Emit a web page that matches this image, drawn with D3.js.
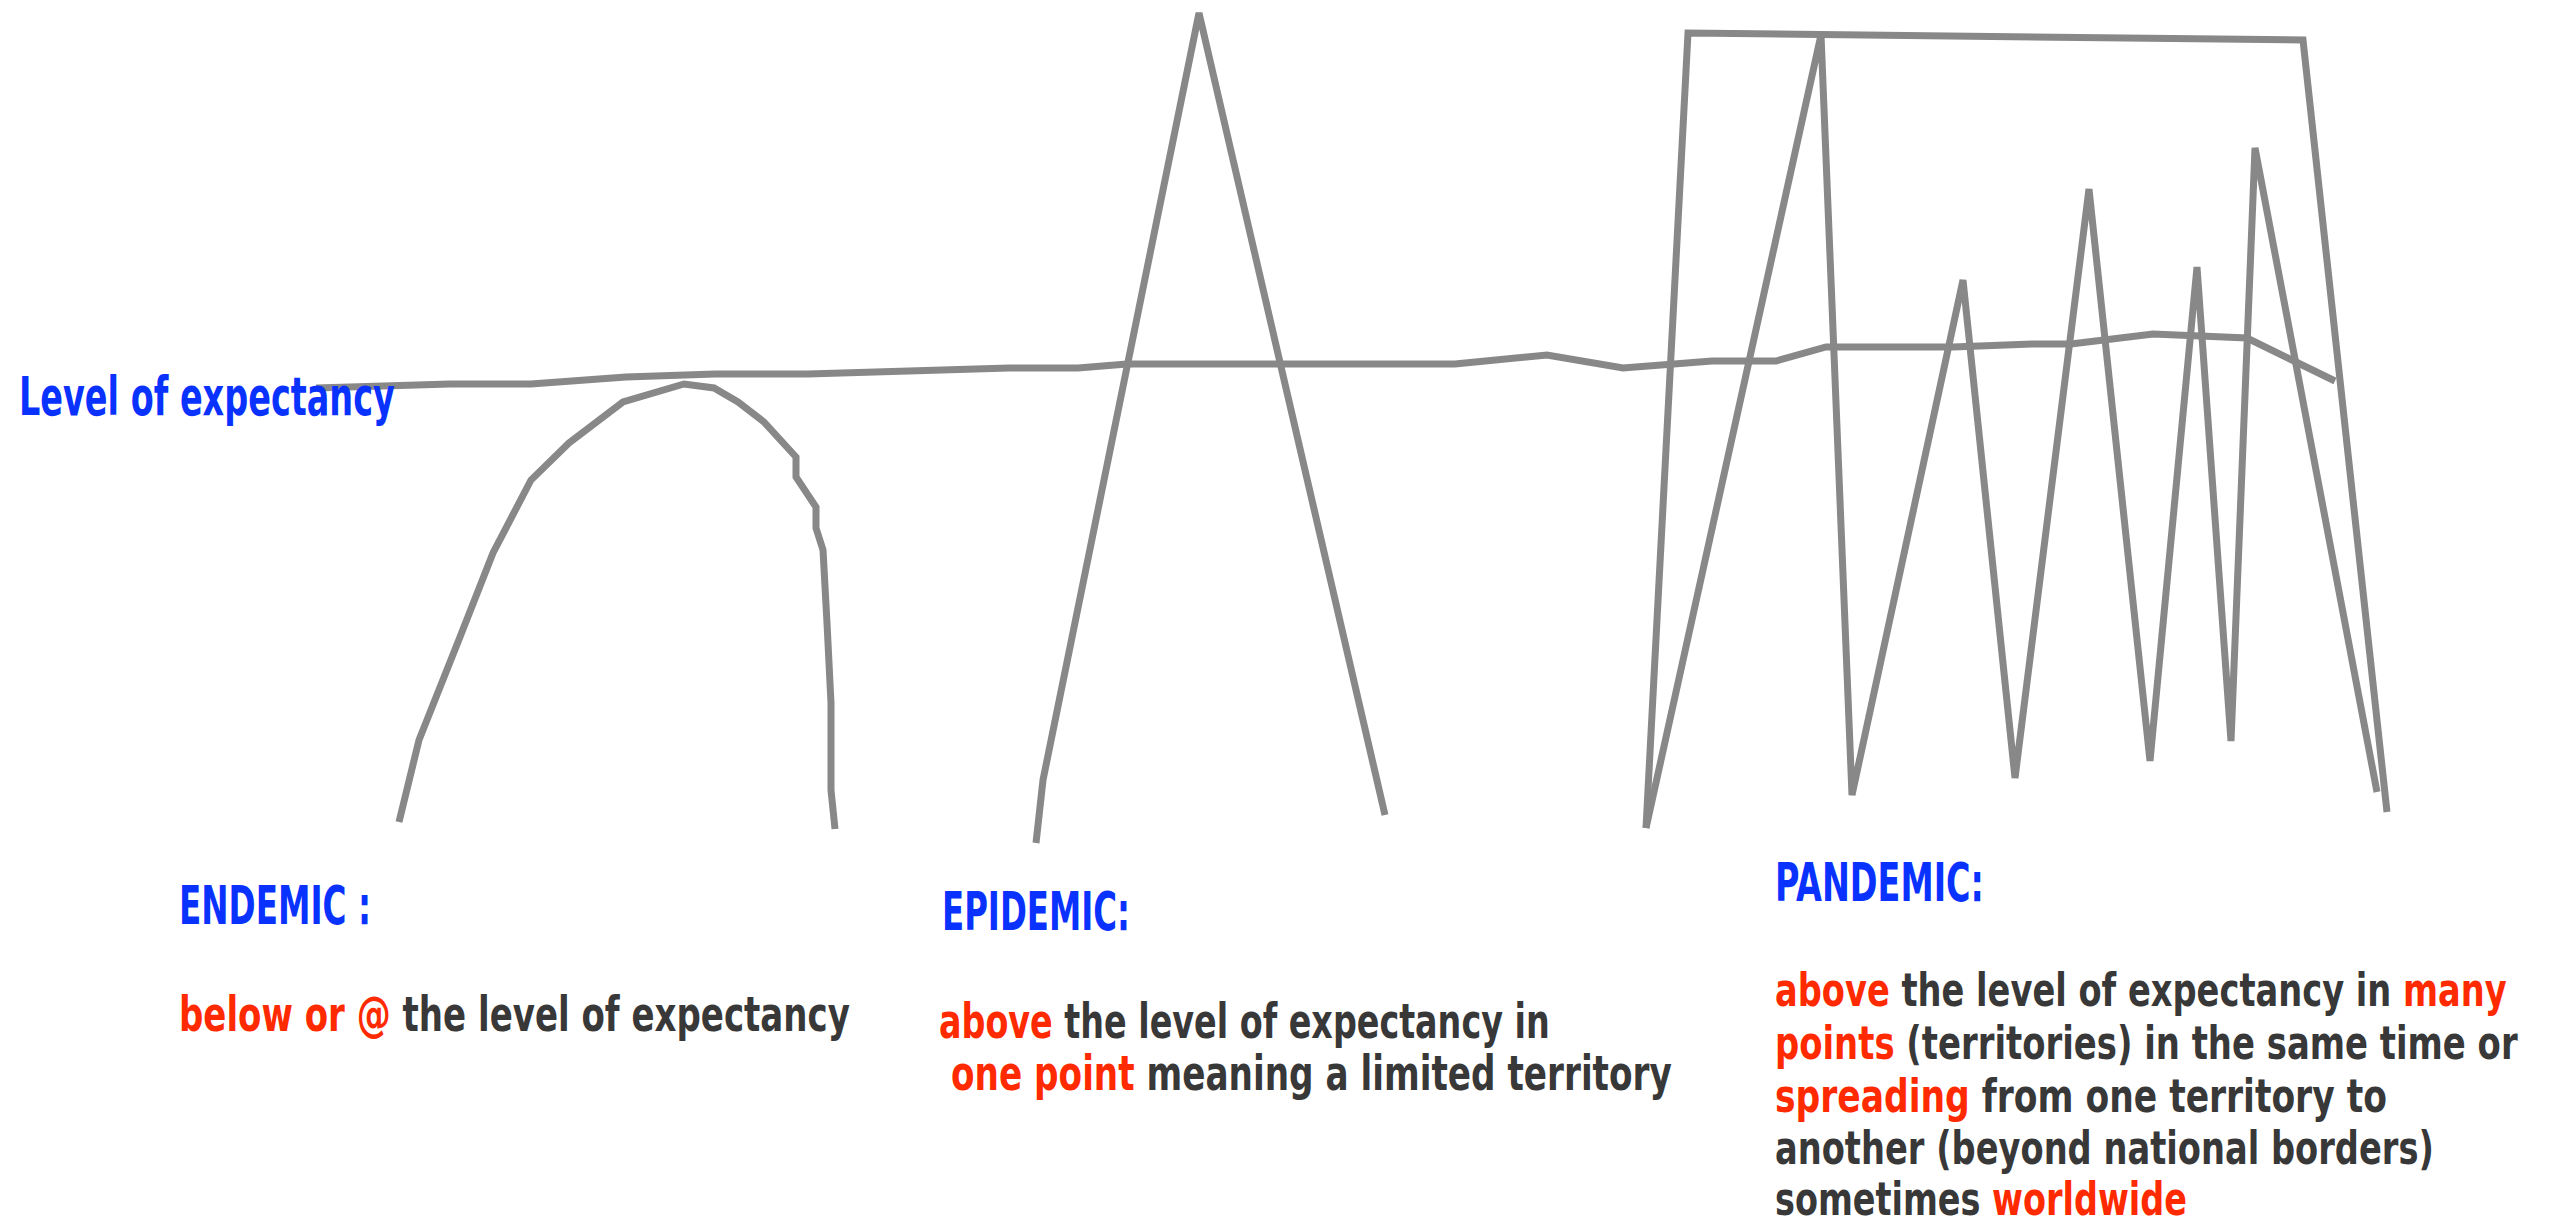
<!DOCTYPE html>
<html>
<head>
<meta charset="utf-8">
<script src="https://cdn.jsdelivr.net/npm/d3@7"></script>
<style>
  html, body { margin: 0; padding: 0; background: #ffffff; overflow: hidden; }
  svg { display: block; }
</style>
</head>
<body>
<svg id="chart" width="2553" height="1228"></svg>
<script>
// ---------- DATA (time units along x, level units along y) ----------
const expectancyTime  = [31.6, 45.0, 53.1, 62.6, 71.5, 80.8, 100.9, 107.8, 112.7, 145.5, 154.7, 162.3, 171.2, 177.6, 182.6, 195.3, 203.2, 207.1, 215.3, 224.7, 229.6, 233.5];
const expectancyLevel = [84.0, 84.4, 84.4, 85.1, 85.4, 85.4, 86.0, 86.0, 86.4, 86.4, 87.3, 86.0, 86.7, 86.7, 88.1, 88.1, 88.4, 88.4, 89.4, 89.0, 86.6, 84.7];

const endemicTime  = [39.9, 41.9, 45.8, 49.3, 53.1, 56.9, 62.3, 68.4, 71.4, 73.8, 76.4, 79.6, 79.6, 81.6, 81.6, 82.3, 82.7, 83.1, 83.1, 83.5];
const endemicLevel = [40.6, 48.8, 58.6, 67.5, 74.8, 78.5, 82.6, 84.4, 84.0, 82.6, 80.6, 77.1, 75.1, 72.1, 70.0, 67.8, 60.5, 52.5, 43.8, 39.9];

const epidemicTime  = [103.6, 104.3, 119.9, 138.5];
const epidemicLevel = [38.5, 44.8, 121.5, 41.3];

const pandemicZigTime  = [164.6, 182.1, 185.2, 196.3, 201.5, 208.9, 215.0, 219.7, 223.1, 225.5, 237.7];
const pandemicZigLevel = [40.0, 119.3, 43.3, 94.8, 45.0, 103.9, 46.7, 96.1, 48.7, 108.0, 43.6];

const pandemicSpanTime  = [164.6, 168.8, 230.3, 238.7];
const pandemicSpanLevel = [40.0, 119.5, 118.8, 41.6];

const axisLabel = "Level of expectancy";
const sectionTitles = ["ENDEMIC :", "EPIDEMIC:", "PANDEMIC:"];
const endemicText = [
  [["below or @ ", "hi"], ["the level of expectancy", "tx"]]
];
const epidemicText = [
  [["above ", "hi"], ["the level of expectancy in", "tx"]],
  [["one point ", "hi"], ["meaning a limited territory", "tx"]]
];
const pandemicText = [
  [["above ", "hi"], ["the level of expectancy in ", "tx"], ["many", "hi"]],
  [["points ", "hi"], ["(territories) in the same time or", "tx"]],
  [["spreading ", "hi"], ["from one territory to", "tx"]],
  [["another (beyond national borders)", "tx"]],
  [["sometimes ", "tx"], ["worldwide", "hi"]]
];

// ---------- LAYOUT ----------
const W = 2553, H = 1228;
const svg = d3.select("#chart");
const x = d3.scaleLinear().domain([0, 255.3]).range([0, W]);
const y = d3.scaleLinear().domain([0, 122.8]).range([H, 0]);

const colors = { blue: "#0a32ff", hi: "#ff2a00", tx: "#383838" };
const fontFamily = "'Liberation Sans Narrow', 'DejaVu Sans Condensed', 'Roboto', sans-serif";

const line = d3.line().x(d => x(d[0])).y(d => y(d[1])).curve(d3.curveLinear);
const zip = (a, b) => a.map((v, i) => [v, b[i]]);

const series = [
  zip(endemicTime, endemicLevel),
  zip(epidemicTime, epidemicLevel),
  zip(pandemicSpanTime, pandemicSpanLevel),
  zip(pandemicZigTime, pandemicZigLevel),
  zip(expectancyTime, expectancyLevel)
];

svg.append("g").selectAll("path").data(series).join("path")
  .attr("d", line)
  .attr("fill", "none")
  .attr("stroke", "#888888")
  .attr("stroke-width", 7)
  .attr("stroke-linejoin", "miter")
  .attr("stroke-linecap", "butt");

// text helper: place runs, then stretch horizontally to target width
function placeText(runs, left, baseline, width, size, weight) {
  const t = svg.append("text")
    .attr("font-family", fontFamily)
    .attr("font-size", size)
    .attr("font-weight", weight)
    .attr("x", 0).attr("y", 0)
    .style("white-space", "pre");
  runs.forEach(r => {
    t.append("tspan").attr("fill", colors[r[1]]).text(r[0]);
  });
  const w = t.node().getComputedTextLength();
  const sx = w > 0 ? width / w : 1;
  t.attr("transform", `translate(${left},${baseline}) scale(${sx},1)`);
  return t;
}

placeText([[axisLabel, "blue"]], 19, 415, 376, 54, "bold");

placeText([[sectionTitles[0], "blue"]], 179, 924, 192, 53, "bold");
placeText(endemicText[0], 179, 1031, 671, 48, "bold");

placeText([[sectionTitles[1], "blue"]], 942, 930, 188, 53, "bold");
const epiLefts = [939, 951], epiWidths = [611, 721], epiBase = [1038, 1090];
epidemicText.forEach((r, i) => placeText(r, epiLefts[i], epiBase[i], epiWidths[i], 48, "bold"));

placeText([[sectionTitles[2], "blue"]], 1775, 901, 209, 53, "bold");
const panWidths = [732, 743, 612, 659, 412], panBase = [1006, 1059, 1112, 1164, 1215];
pandemicText.forEach((r, i) => placeText(r, 1775, panBase[i], panWidths[i], 46, "bold"));
</script>
</body>
</html>
